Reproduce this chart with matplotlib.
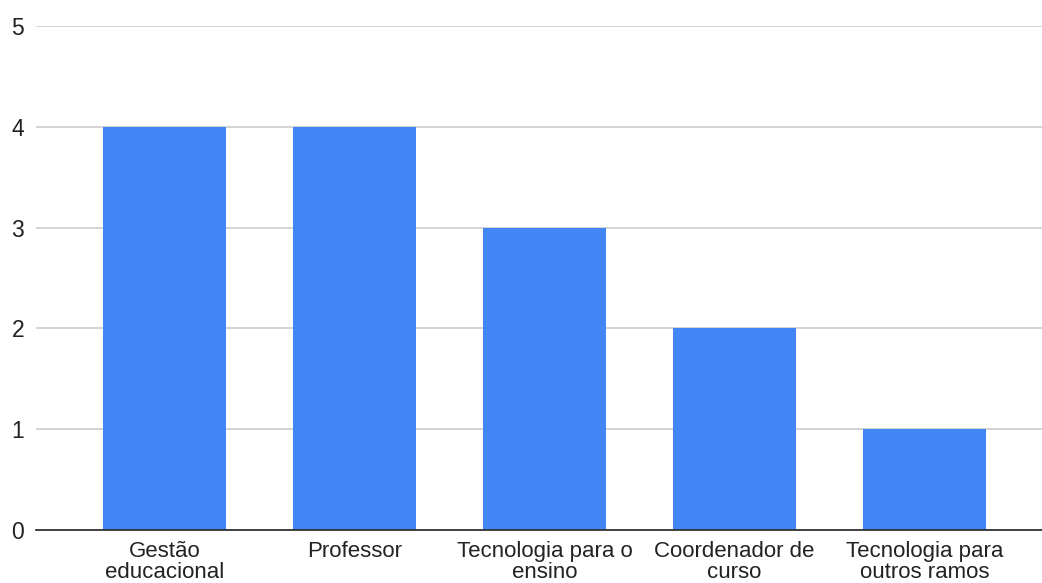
import matplotlib.pyplot as plt

# dados
categorias = ['Gestão\neducacional', 'Professor', 'Tecnologia para o\nensino',
              'Coordenador de\ncurso', 'Tecnologia para\noutros ramos']
valores = [4, 4, 3, 2, 1]
y_ticks = [0, 1, 2, 3, 4, 5]

plt.rcParams['font.family'] = ['Liberation Sans', 'DejaVu Sans']

fig = plt.figure(figsize=(10.42, 5.83), dpi=100)
ax = fig.add_axes([36 / 1042, 53 / 583, 1 - 36 / 1042, (530 - 26) / 583])

x = range(len(categorias))
ax.bar(x, valores, width=0.647, color='#4285F4', zorder=3)

ax.set_xlim(-0.676, 4.618)
ax.set_ylim(0, 5)
ax.set_yticks(y_ticks)
ax.set_xticks(list(x))
ax.set_xticklabels(categorias, fontsize=16, linespacing=0.98, color='#222222')
ax.tick_params(axis='y', length=0, pad=8.5, labelsize=16.5, labelcolor='#222222')
ax.tick_params(axis='x', length=0, pad=8)

ax.grid(axis='y', color='#cccccc', linewidth=1.2, zorder=0)
for s in ['top', 'right', 'left']:
    ax.spines[s].set_visible(False)
ax.spines['bottom'].set_color('#333333')
ax.spines['bottom'].set_linewidth(1.3)
ax.spines['bottom'].set_zorder(4)

fig.savefig('out.png', dpi=100)
